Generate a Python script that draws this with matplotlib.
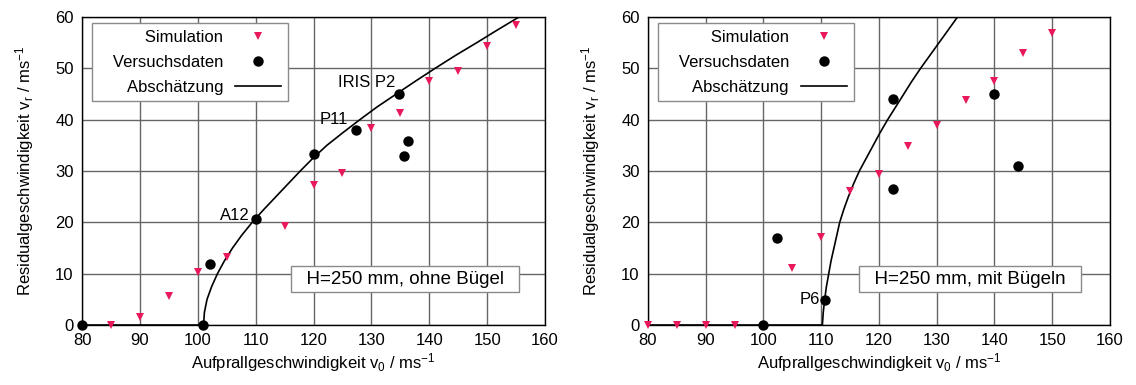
import matplotlib
matplotlib.use('Agg')
import matplotlib.pyplot as plt

plt.rcParams['font.family'] = ['Liberation Sans', 'DejaVu Sans']
plt.rcParams['font.size'] = 12
plt.rcParams['mathtext.fontset'] = 'custom'
plt.rcParams['mathtext.rm'] = 'Liberation Sans'
plt.rcParams['mathtext.it'] = 'Liberation Sans'

# left panel: H=250 mm, ohne Buegel
left_sim_v0 = [85, 90, 95, 100, 105, 115, 120, 125, 130, 135, 140, 145, 150, 155]
left_sim_vr = [0, 1.6, 5.6, 10.4, 13.2, 19.3, 27.2, 29.6, 38.3, 41.3, 47.6, 49.4, 54.3, 58.5]
left_exp_v0 = [80, 100.9, 102.1, 110.1, 120.1, 127.3, 134.8, 135.7, 136.4]
left_exp_vr = [0, 0, 11.9, 20.6, 33.4, 38.0, 45.0, 32.9, 35.9]
left_fit_v0 = [80, 101.0, 101.15, 101.6, 102.4, 103.4, 104.6, 106.0, 107.6, 109.4, 111.4,
               113.5, 115.6, 117.7, 119.9, 122.3, 125.1, 128.0, 131.0, 134.3, 137.6,
               141.0, 144.5, 148.2, 151.8, 155.5]
left_fit_vr = [0, 0, 2.5, 5, 7.5, 10, 12.5, 15, 17.5, 20, 22.5,
               25, 27.5, 30, 32.5, 35, 37.5, 40, 42.5, 45, 47.5,
               50, 52.5, 55, 57.5, 60]
left_labels = [('A12', 109.0, 21.4), ('P11', 126.0, 40.0), ('IRIS P2', 134.2, 47.3)]

# right panel: H=250 mm, mit Buegeln
right_sim_v0 = [80, 85, 90, 95, 105, 110, 115, 120, 125, 130, 135, 140, 145, 150]
right_sim_vr = [0, 0, 0, 0, 11.2, 17.1, 26.2, 29.5, 34.9, 38.9, 43.9, 47.6, 53.0, 56.8]
right_exp_v0 = [100, 102.3, 110.6, 122.4, 122.4, 140, 144.1]
right_exp_vr = [0, 16.9, 4.9, 44.0, 26.4, 45.0, 30.9]
right_fit_v0 = [80, 110.2, 110.35, 110.6, 110.9, 111.3, 111.7, 112.2, 112.7, 113.2, 113.9,
                114.7, 115.6, 116.6, 117.8, 119.0, 120.2, 121.5, 122.9, 124.3, 125.7,
                127.2, 128.8, 130.4, 132.0, 133.6]
right_fit_vr = [0, 0, 2.5, 5, 7.5, 10, 12.5, 15, 17.5, 20, 22.5,
                25, 27.5, 30, 32.5, 35, 37.5, 40, 42.5, 45, 47.5,
                50, 52.5, 55, 57.5, 60]
right_labels = [('P6', 109.8, 4.9)]

sim_color = '#e8185a'
grid_color = '#666666'

fig = plt.figure(figsize=(11.36, 3.85), dpi=100)
ax1 = fig.add_axes([0.0722, 0.1558, 0.4076, 0.8])
ax2 = fig.add_axes([0.5704, 0.1558, 0.4067, 0.8])

panels = [
    (ax1, left_sim_v0, left_sim_vr, left_exp_v0, left_exp_vr, left_fit_v0, left_fit_vr,
     left_labels, 'H=250 mm, ohne Bügel'),
    (ax2, right_sim_v0, right_sim_vr, right_exp_v0, right_exp_vr, right_fit_v0, right_fit_vr,
     right_labels, 'H=250 mm, mit Bügeln'),
]

for ax, sv, sr, ev, er, fv, fr, labels, note in panels:
    ax.plot(sv, sr, 'v', color=sim_color, markersize=6, markeredgewidth=0,
            label='   Simulation', clip_on=False, zorder=3)
    ax.plot(ev, er, 'o', color='black', markersize=7.5, markeredgewidth=0,
            label='   Versuchsdaten', clip_on=False, zorder=4)
    ax.plot(fv, fr, '-', color='black', linewidth=1.2, label='   Abschätzung', zorder=2)

    for text, x, y in labels:
        ax.text(x, y, text, ha='right', va='center', fontsize=12, zorder=5)

    ax.text(135.8, 8.95, '  ' + note + '  ', ha='center', va='center', fontsize=13.5, zorder=5,
            bbox=dict(boxstyle='square,pad=0.25', facecolor='white',
                      edgecolor='#8a8a8a', linewidth=1))

    ax.set_xlim(80, 160)
    ax.set_ylim(0, 60)
    ax.set_xticks(range(80, 161, 10))
    ax.set_yticks(range(0, 61, 10))
    ax.grid(True, color=grid_color, linewidth=1)
    ax.set_axisbelow(True)
    ax.tick_params(direction='in', length=0, pad=6, labelsize=12)
    for s in ax.spines.values():
        s.set_color('black')
        s.set_linewidth(1)

    ax.set_xlabel(r'Aufprallgeschwindigkeit v$_0$ / ms$^{-1}$', fontsize=12, labelpad=2)
    ax.set_ylabel(r'Residualgeschwindigkeit v$_r$ / ms$^{-1}$', fontsize=12, labelpad=14)

    leg = ax.legend(loc='upper left', bbox_to_anchor=(0.0216, 0.9805), borderaxespad=0,
                    markerfirst=False, fancybox=False, framealpha=1, edgecolor='#8a8a8a',
                    handlelength=2.8, handletextpad=0.7, borderpad=0.4, labelspacing=0.6,
                    fontsize=12)
    leg.get_frame().set_linewidth(1)
    leg.set_zorder(6)

fig.savefig('out.png', dpi=100)
